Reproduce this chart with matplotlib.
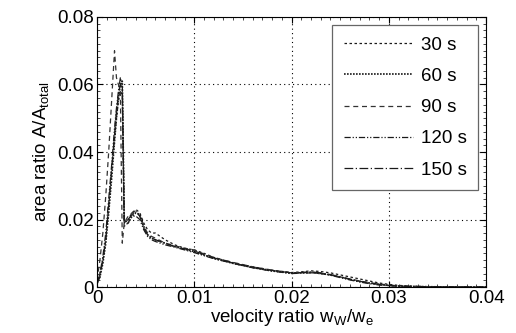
import matplotlib
matplotlib.use('Agg')
import matplotlib.pyplot as plt
from matplotlib.ticker import MultipleLocator

plt.rcParams['font.family'] = ['Liberation Sans', 'DejaVu Sans']
plt.rcParams['mathtext.fontset'] = 'custom'
plt.rcParams['mathtext.rm'] = 'Liberation Sans'

# velocity ratio (shared x grid)
x = [0, 0.0003, 0.0006, 0.0009, 0.0012, 0.0015, 0.0018, 0.0020, 0.0022, 0.0024,
     0.0026, 0.0028, 0.0032, 0.0036, 0.004, 0.0044, 0.0048, 0.0052, 0.0056, 0.006,
     0.007, 0.008, 0.009, 0.010, 0.011, 0.012, 0.013, 0.014, 0.016, 0.018,
     0.020, 0.021, 0.022, 0.023, 0.024, 0.025, 0.026, 0.027, 0.028, 0.029,
     0.030, 0.031, 0.032, 0.034, 0.037, 0.040]

s30 = [0.001, 0.004, 0.008, 0.014, 0.024, 0.034, 0.044, 0.050, 0.055, 0.058,
       0.057, 0.019, 0.020, 0.022, 0.023, 0.022, 0.019, 0.017, 0.016, 0.016,
       0.014, 0.0125, 0.0115, 0.011, 0.010, 0.0088, 0.008, 0.0072, 0.006, 0.005,
       0.0043, 0.0045, 0.0048, 0.0046, 0.0042, 0.0036, 0.003, 0.0024, 0.0018, 0.0012,
       0.0008, 0.0005, 0.0003, 0.0001, 0.00005, 0.0]
s60 = [0.001, 0.003, 0.007, 0.013, 0.022, 0.032, 0.043, 0.050, 0.056, 0.060,
       0.061, 0.020, 0.019, 0.021, 0.022, 0.0215, 0.018, 0.0155, 0.0145, 0.014,
       0.013, 0.012, 0.0112, 0.0105, 0.0095, 0.0085, 0.0078, 0.007, 0.0058, 0.0048,
       0.0041, 0.0042, 0.0043, 0.004, 0.0036, 0.003, 0.0023, 0.0017, 0.0012, 0.0008,
       0.0005, 0.0003, 0.0002, 0.0001, 0.0, 0.0]
s90 = [0.002, 0.008, 0.016, 0.027, 0.040, 0.055, 0.070, 0.062, 0.060, 0.058,
       0.013, 0.019, 0.021, 0.022, 0.0225, 0.021, 0.018, 0.016, 0.015, 0.0145,
       0.013, 0.0122, 0.0115, 0.011, 0.0098, 0.0088, 0.008, 0.0073, 0.006, 0.005,
       0.0042, 0.0043, 0.0044, 0.0041, 0.0036, 0.003, 0.0024, 0.0018, 0.0013, 0.0009,
       0.0006, 0.0003, 0.0002, 0.0001, 0.0, 0.0]
s120 = [0.001, 0.004, 0.009, 0.016, 0.026, 0.036, 0.047, 0.053, 0.058, 0.062,
        0.060, 0.018, 0.019, 0.021, 0.021, 0.020, 0.017, 0.015, 0.014, 0.0135,
        0.0125, 0.0118, 0.011, 0.0102, 0.0093, 0.0084, 0.0077, 0.007, 0.0057, 0.0047,
        0.004, 0.0041, 0.0042, 0.004, 0.0035, 0.0028, 0.0021, 0.0015, 0.001, 0.0006,
        0.0004, 0.0002, 0.0001, 0.0, 0.0, 0.0]
s150 = [0.001, 0.003, 0.008, 0.014, 0.024, 0.035, 0.045, 0.052, 0.057, 0.060,
        0.059, 0.019, 0.020, 0.0215, 0.0225, 0.021, 0.0175, 0.0155, 0.0145, 0.014,
        0.013, 0.012, 0.0113, 0.0107, 0.0096, 0.0086, 0.0079, 0.0071, 0.0058, 0.0049,
        0.0042, 0.0043, 0.0045, 0.0042, 0.0037, 0.003, 0.0023, 0.0017, 0.0012, 0.0008,
        0.0005, 0.0003, 0.0002, 0.0001, 0.0, 0.0]

labels = ['30 s', '60 s', '90 s', '120 s', '150 s']
xticks = [0, 0.01, 0.02, 0.03, 0.04]
xticklabels = ['0', '0.01', '0.02', '0.03', '0.04']
yticks = [0, 0.02, 0.04, 0.06, 0.08]
yticklabels = ['0', '0.02', '0.04', '0.06', '0.08']

fs = 13.5

fig = plt.figure(figsize=(5.16, 3.33), dpi=100)
ax = fig.add_axes([0.188, 0.138, 0.754, 0.811])

ax.plot(x, s30, color='0.1', lw=0.9, linestyle=(0, (2, 2)), label=labels[0])
ax.plot(x, s60, color='0.1', lw=1.2, linestyle=(0, (1, 0.8)), label=labels[1])
ax.plot(x, s90, color='0.2', lw=0.9, linestyle=(0, (4, 3)), label=labels[2])
ax.plot(x, s120, color='0.1', lw=0.9, linestyle=(0, (5, 1.5, 1, 1.5, 1, 1.5)), label=labels[3])
ax.plot(x, s150, color='0.1', lw=0.9, linestyle=(0, (7, 2, 1, 2)), label=labels[4])

ax.set_xlim(0, 0.04)
ax.set_ylim(0, 0.08)
ax.set_xticks(xticks)
ax.set_xticklabels(xticklabels)
ax.set_yticks(yticks)
ax.set_yticklabels(yticklabels)
ax.xaxis.set_minor_locator(MultipleLocator(0.001))
ax.yaxis.set_minor_locator(MultipleLocator(0.002))
ax.tick_params(which='both', direction='in', top=True, right=True, labelsize=fs, colors='black')
ax.tick_params(which='major', length=4, pad=2)
ax.tick_params(which='minor', length=2, width=0.5)
ax.grid(True, which='major', linestyle=(0, (1, 3)), color='black', lw=0.8)

ax.set_xlabel('velocity ratio w$_\\mathregular{W}$/w$_\\mathregular{e}$', fontsize=fs, labelpad=0)
ax.set_ylabel('area ratio A/A$_\\mathregular{total}$', fontsize=fs, labelpad=4)

leg = ax.legend(loc='upper right', fontsize=fs, handlelength=3.7, handletextpad=0.4,
                labelspacing=0.75, borderpad=0.6, fancybox=False, framealpha=1,
                borderaxespad=0.45)
leg.get_frame().set_edgecolor('0.4')
leg.get_frame().set_linewidth(0.9)

fig.savefig('out.png', dpi=100)
